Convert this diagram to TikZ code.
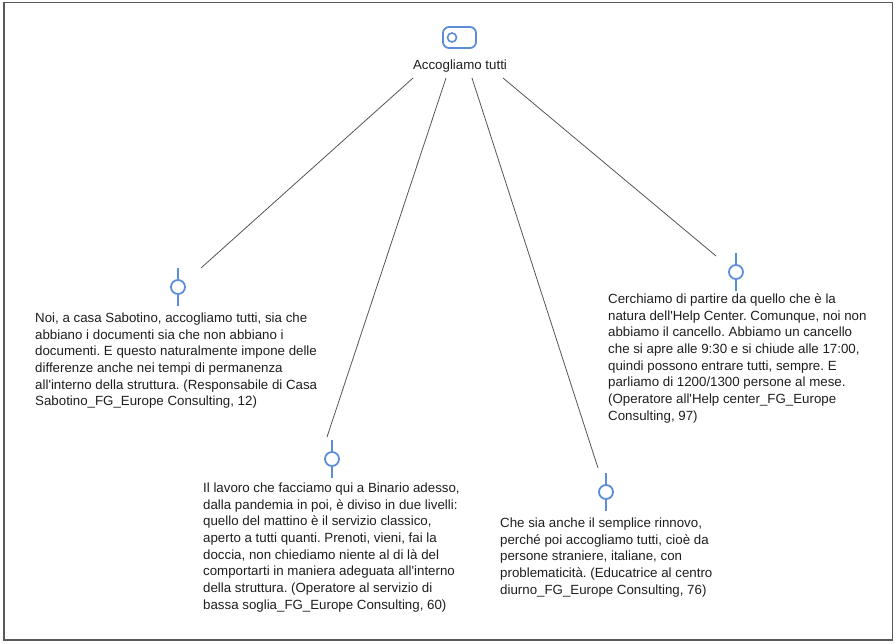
\documentclass[tikz,border=0pt]{standalone}
\usepackage{fontspec}
\setmainfont{Liberation Sans}
\usepackage{xcolor}
\usepackage{tikz}
\frenchspacing

\definecolor{iconblue}{HTML}{5B8DD9}
\definecolor{linegray}{HTML}{555555}
\definecolor{textgray}{HTML}{1E1E1E}
\newcommand{\sq}{\textquotesingle}

\tikzset{
  quote/.style={anchor=north west, inner sep=0pt, align=left, text=textgray,
    font=\fontsize{13.3}{16.7}\selectfont},
  pinhead/.style={circle, draw=iconblue, line width=1.8pt, minimum size=14pt, inner sep=0pt},
  stem/.style={draw=iconblue, line width=1.8pt},
  link/.style={draw=linegray, line width=0.8pt}
}

\begin{document}
\begin{tikzpicture}[x=1pt, y=-1pt]
\useasboundingbox (0,0) rectangle (896,644);
\draw [gray!70!black, line width=1.2pt] (4,2.5) rectangle (892.5,640);

% root
\node [draw=iconblue, line width=1.8pt, rounded corners=6pt, minimum width=33pt, minimum height=21pt] (root) at (459.5,37.5) {};
\node [circle, draw=iconblue, line width=1.6pt, minimum size=9pt, inner sep=0pt] (rootdot) at (452,37.5) {};
\node [text=textgray, font=\fontsize{13.3}{16}\selectfont] (rootlabel) at (460,66) {Accogliamo tutti};

% pins
\node [pinhead] (p1) at (178,287) {};
\node [pinhead] (p2) at (332,459) {};
\node [pinhead] (p3) at (606,492) {};
\node [pinhead] (p4) at (736,272) {};
\foreach \p in {p1,p2,p3,p4} {
  \draw [stem] (\p.north) -- ++(0,-11);
  \draw [stem] (\p.south) -- ++(0,11);
}

% link ends
\coordinate (s1) at (413,78);
\coordinate (s2) at (446,78);
\coordinate (s3) at (472,78);
\coordinate (s4) at (503,78);
\coordinate (e1) at (201,268);
\coordinate (e2) at (327,437);
\coordinate (e3) at (598,468);
\coordinate (e4) at (716,256);
\draw [link] (s1) -- (e1);
\draw [link] (s2) -- (e2);
\draw [link] (s3) -- (e3);
\draw [link] (s4) -- (e4);

% quotes
\node [quote] (q1) at (35,312.5) {Noi, a casa Sabotino, accogliamo tutti, sia che\\abbiano i documenti sia che non abbiano i\\documenti. E questo naturalmente impone delle\\differenze anche nei tempi di permanenza\\all\sq interno della struttura. (Responsabile di Casa\\Sabotino\_FG\_Europe Consulting, 12)};
\node [quote] (q2) at (203,482.5) {Il lavoro che facciamo qui a Binario adesso,\\dalla pandemia in poi, è diviso in due livelli:\\quello del mattino è il servizio classico,\\aperto a tutti quanti. Prenoti, vieni, fai la\\doccia, non chiediamo niente al di là del\\comportarti in maniera adeguata all\sq interno\\della struttura. (Operatore al servizio di\\bassa soglia\_FG\_Europe Consulting, 60)};
\node [quote] (q3) at (500,517.5) {Che sia anche il semplice rinnovo,\\perché poi accogliamo tutti, cioè da\\persone straniere, italiane, con\\problematicità. (Educatrice al centro\\diurno\_FG\_Europe Consulting, 76)};
\node [quote] (q4) at (608,293.5) {Cerchiamo di partire da quello che è la\\natura dell\sq Help Center. Comunque, noi non\\abbiamo il cancello. Abbiamo un cancello\\che si apre alle 9:30 e si chiude alle 17:00,\\quindi possono entrare tutti, sempre. E\\parliamo di 1200/1300 persone al mese.\\(Operatore all\sq Help center\_FG\_Europe\\Consulting, 97)};
\end{tikzpicture}
\end{document}
